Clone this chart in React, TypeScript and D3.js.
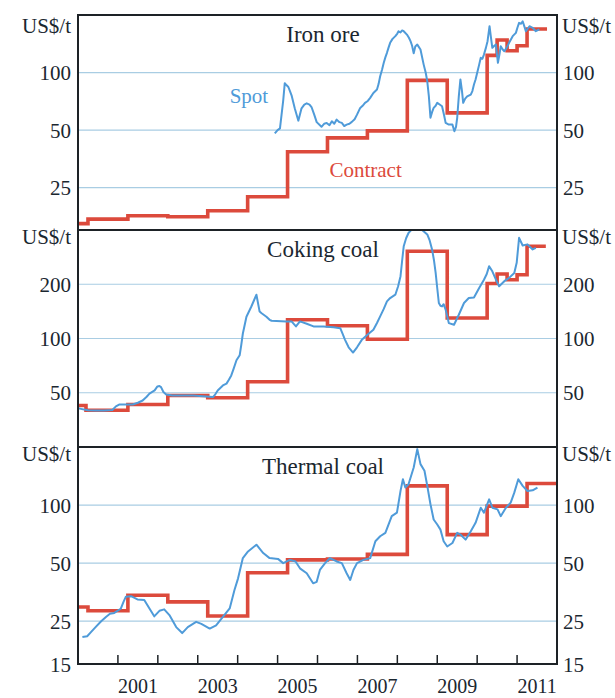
import React from "react";
import * as d3 from "d3";

// ---- Data (US$ per tonne, x = decimal year) ----
const tickYears = [2001, 2002, 2003, 2004, 2005, 2006, 2007, 2008, 2009, 2010, 2011];
const labelYears = [2001, 2003, 2005, 2007, 2009, 2011];

const ironOreSpot: [number, number][] = [
  [2004.93, 48], [2005.0, 50], [2005.06, 51], [2005.14, 71], [2005.18, 88], [2005.22, 86],
  [2005.27, 84], [2005.31, 80], [2005.35, 76], [2005.43, 65], [2005.52, 56], [2005.6, 65],
  [2005.67, 68], [2005.73, 69], [2005.8, 68], [2005.85, 66], [2005.92, 60], [2005.98, 55],
  [2006.1, 52], [2006.17, 54], [2006.23, 54.5], [2006.3, 53], [2006.36, 55.6], [2006.42, 54],
  [2006.48, 56.7], [2006.55, 55], [2006.61, 54.5], [2006.67, 52.5], [2006.73, 53.4], [2006.8, 54],
  [2006.86, 55.2], [2006.93, 57], [2006.99, 60.2], [2007.07, 65.3], [2007.13, 67], [2007.19, 69.4],
  [2007.26, 71], [2007.32, 73.7], [2007.4, 78.2], [2007.49, 81.5], [2007.53, 87], [2007.57, 95.6],
  [2007.62, 104], [2007.66, 112.4], [2007.7, 120], [2007.74, 126.8], [2007.78, 135], [2007.82, 143],
  [2007.88, 150], [2007.95, 155], [2008.0, 160], [2008.03, 164.5], [2008.08, 162], [2008.12, 166],
  [2008.16, 164.5], [2008.24, 158], [2008.29, 152], [2008.33, 146], [2008.37, 138], [2008.41, 126],
  [2008.45, 137], [2008.5, 140], [2008.58, 132], [2008.66, 110], [2008.71, 100], [2008.75, 90],
  [2008.79, 75], [2008.83, 58], [2008.87, 62], [2008.91, 65.3], [2008.96, 67], [2009.0, 69.4],
  [2009.06, 68], [2009.12, 66.6], [2009.17, 60], [2009.21, 54.5], [2009.29, 53.4], [2009.38, 53.4],
  [2009.43, 49.3], [2009.47, 52], [2009.5, 58], [2009.54, 75], [2009.58, 92], [2009.62, 80],
  [2009.65, 69.4], [2009.7, 73], [2009.75, 75], [2009.84, 76.7], [2009.88, 80], [2009.92, 86.5],
  [2009.96, 92], [2010.01, 101.6], [2010.05, 110], [2010.09, 119.4], [2010.13, 118], [2010.17, 124.2],
  [2010.22, 135], [2010.26, 145.9], [2010.31, 174.7], [2010.35, 150], [2010.38, 134.7], [2010.43, 138],
  [2010.47, 140.2], [2010.52, 112.4], [2010.56, 125], [2010.59, 137.3], [2010.64, 132], [2010.68, 129.3],
  [2010.74, 135], [2010.8, 143], [2010.89, 155], [2010.97, 161.3], [2011.01, 172], [2011.05, 182],
  [2011.1, 180], [2011.14, 185.5], [2011.18, 175], [2011.22, 164.5], [2011.27, 170], [2011.31, 174.7],
  [2011.39, 171.3], [2011.43, 168], [2011.47, 164.5], [2011.56, 168],
];

// contract prices: [start of pricing period, price]
const ironOreContract: [number, number][] = [
  [2000.0, 16.2], [2000.25, 17.1], [2001.25, 17.8], [2002.25, 17.6], [2003.25, 18.9],
  [2004.25, 22.4], [2005.25, 38.5], [2006.25, 45.5], [2007.25, 49.5], [2008.25, 91],
  [2009.25, 61.5], [2010.25, 123], [2010.5, 148], [2010.75, 130], [2011.0, 138], [2011.25, 169],
];
const ironOreContractEnd = 2011.75;

const cokingCoalSpot: [number, number][] = [
  [2000.0, 41], [2000.07, 40.7], [2000.25, 40], [2000.44, 39.8], [2000.65, 39.9], [2000.86, 40.1],
  [2000.95, 42], [2001.03, 43], [2001.2, 43], [2001.37, 43], [2001.5, 44], [2001.62, 45.3],
  [2001.72, 47.5], [2001.79, 49.4], [2001.92, 51.5], [2001.99, 54.2], [2002.04, 54.5], [2002.08, 53.7],
  [2002.14, 50.5], [2002.21, 48.9], [2002.37, 48.3], [2002.6, 48.3], [2002.88, 48.3], [2003.21, 47.7],
  [2003.38, 47.3], [2003.44, 49], [2003.5, 51.5], [2003.63, 54.9], [2003.72, 56.2], [2003.78, 59],
  [2003.84, 62.4], [2003.9, 68], [2003.97, 75.7], [2004.05, 80.7], [2004.09, 92], [2004.13, 106.6],
  [2004.22, 132.1], [2004.34, 150], [2004.41, 163], [2004.47, 175], [2004.55, 141], [2004.6, 138],
  [2004.72, 132.1], [2004.8, 127], [2004.85, 125.5], [2005.22, 124.4], [2005.35, 124.4], [2005.46, 116.7],
  [2005.56, 124.4], [2005.73, 120.8], [2005.9, 116.7], [2006.15, 116.7], [2006.4, 115.6], [2006.57, 114.1],
  [2006.63, 106], [2006.69, 98.3], [2006.78, 89.4], [2006.89, 83.6], [2006.99, 89.4], [2007.11, 98.3],
  [2007.28, 106.2], [2007.4, 111.8], [2007.49, 122], [2007.57, 132.6], [2007.66, 146], [2007.74, 160.7],
  [2007.82, 167.7], [2007.95, 175], [2008.02, 195], [2008.08, 221.8], [2008.12, 270], [2008.16, 325],
  [2008.22, 360], [2008.28, 385], [2008.34, 398], [2008.41, 410], [2008.52, 410], [2008.62, 400],
  [2008.75, 378], [2008.81, 350], [2008.87, 312], [2008.92, 270], [2008.96, 231], [2009.0, 190],
  [2009.04, 157.4], [2009.08, 152], [2009.12, 150.7], [2009.16, 155], [2009.21, 144.6], [2009.29, 121.7],
  [2009.42, 119.2], [2009.54, 135.5], [2009.67, 157.4], [2009.79, 167.7], [2009.92, 169], [2010.05, 190.7],
  [2010.17, 212], [2010.24, 228], [2010.3, 252], [2010.38, 236], [2010.47, 212], [2010.55, 195],
  [2010.68, 208], [2010.8, 217], [2010.93, 231], [2010.99, 263], [2011.05, 362], [2011.14, 328],
  [2011.26, 333], [2011.39, 312], [2011.47, 318],
];

const cokingCoalContract: [number, number][] = [
  [2000.0, 42.5], [2000.2, 40.0], [2001.25, 43], [2002.25, 48.3], [2003.25, 46.9],
  [2004.25, 57.5], [2005.25, 127], [2006.25, 117.7], [2007.25, 99], [2008.25, 305],
  [2009.25, 130], [2010.25, 202], [2010.5, 228], [2010.75, 212], [2011.0, 226], [2011.25, 325],
];
const cokingCoalContractEnd = 2011.72;

const thermalCoalSpot: [number, number][] = [
  [2000.11, 20.7], [2000.23, 20.9], [2000.33, 22], [2000.44, 23.3], [2000.58, 25], [2000.7, 26.3],
  [2000.8, 27.3], [2000.91, 27.6], [2001.07, 29], [2001.14, 31.5], [2001.2, 33.5], [2001.33, 33.7],
  [2001.49, 32.4], [2001.66, 32.2], [2001.79, 29.1], [2001.91, 26.5], [2002.04, 28.3], [2002.16, 28.8],
  [2002.29, 26.9], [2002.46, 23.3], [2002.61, 21.7], [2002.75, 23.3], [2002.96, 24.8], [2003.09, 24.2],
  [2003.3, 22.9], [2003.46, 23.8], [2003.63, 26.3], [2003.8, 29.1], [2003.92, 36.3], [2004.01, 41.7],
  [2004.13, 53.1], [2004.26, 57.5], [2004.47, 62.3], [2004.64, 56.4], [2004.8, 53.1], [2005.01, 52.6],
  [2005.14, 50], [2005.31, 52], [2005.45, 51], [2005.56, 47], [2005.73, 44.3], [2005.89, 39.3],
  [2005.98, 40], [2006.06, 46.1], [2006.19, 50], [2006.31, 53.1], [2006.48, 51], [2006.61, 50],
  [2006.73, 44.3], [2006.82, 40.9], [2006.9, 46.1], [2006.99, 50], [2007.15, 52], [2007.32, 53.1],
  [2007.45, 64.9], [2007.57, 68.9], [2007.7, 71.8], [2007.86, 87.6], [2007.99, 91.3], [2008.08, 118.4],
  [2008.14, 136.2], [2008.2, 123.3], [2008.28, 128.3], [2008.41, 156.7], [2008.5, 195], [2008.58, 163],
  [2008.68, 150.6], [2008.75, 125.7], [2008.83, 101], [2008.91, 84.2], [2009.0, 79.3], [2009.08, 74.6],
  [2009.16, 64.9], [2009.25, 61], [2009.38, 63.6], [2009.5, 71.8], [2009.58, 70.3], [2009.71, 66.2],
  [2009.84, 73.1], [2009.96, 80.9], [2010.09, 96.9], [2010.17, 91.3], [2010.3, 107.1], [2010.38, 96.9],
  [2010.51, 95], [2010.59, 87.6], [2010.72, 96.9], [2010.84, 103], [2010.93, 116], [2011.03, 136],
  [2011.14, 125.7], [2011.26, 118.3], [2011.39, 119.3], [2011.51, 123.3],
];

const thermalCoalContract: [number, number][] = [
  [2000.0, 29.6], [2000.25, 28.3], [2001.25, 34.1], [2002.25, 31.5], [2003.25, 26.6],
  [2004.25, 44.6], [2005.25, 52], [2006.25, 52.5], [2007.25, 55.5], [2008.25, 125.7],
  [2009.25, 70.3], [2010.25, 98.8], [2011.25, 129.4],
];
const thermalCoalContractEnd = 2012;

const ironOreTicks = [100, 50, 25];
const cokingCoalTicks = [200, 100, 50];
const thermalCoalTicks = [100, 50, 25, 15];

const ironOreDomain: [number, number] = [15, 200];
const cokingCoalDomain: [number, number] = [25, 400];
const thermalCoalDomain: [number, number] = [15, 200];

// ---- Layout & style ----
const W = 615;
const H = 698;
const LEFT = 78;
const RIGHT = 557;
const SPOT_COLOR = "#4f9bd9";
const CONTRACT_COLOR = "#dc4a3c";
const GRID_COLOR = "#a9cde3";
const FRAME_COLOR = "#1d2226";
const TEXT_COLOR = "#1b2730";
const FONT = "'Liberation Serif', 'Times New Roman', serif";

const xScale = d3.scaleLinear().domain([2000, 2012]).range([LEFT, RIGHT]);

type PanelDef = {
  key: string;
  title: string;
  top: number;
  bottom: number;
  domain: [number, number];
  ticks: number[];
  spot: [number, number][];
  contract: [number, number][];
  contractEnd: number;
};

const panels: PanelDef[] = [
  { key: "iron", title: "Iron ore", top: 15, bottom: 230, domain: ironOreDomain, ticks: ironOreTicks,
    spot: ironOreSpot, contract: ironOreContract, contractEnd: ironOreContractEnd },
  { key: "coking", title: "Coking coal", top: 230, bottom: 447, domain: cokingCoalDomain, ticks: cokingCoalTicks,
    spot: cokingCoalSpot, contract: cokingCoalContract, contractEnd: cokingCoalContractEnd },
  { key: "thermal", title: "Thermal coal", top: 447, bottom: 664, domain: thermalCoalDomain, ticks: thermalCoalTicks,
    spot: thermalCoalSpot, contract: thermalCoalContract, contractEnd: thermalCoalContractEnd },
];

function Panel({ p }: { p: PanelDef }) {
  const y = d3.scaleLog().domain(p.domain).range([p.bottom, p.top]);
  const line = d3.line<[number, number]>().x((d) => xScale(d[0])).y((d) => y(d[1]));
  const step = d3
    .line<[number, number]>()
    .x((d) => xScale(d[0]))
    .y((d) => y(d[1]))
    .curve(d3.curveStepAfter);
  const contractPts: [number, number][] = [
    ...p.contract,
    [p.contractEnd, p.contract[p.contract.length - 1][1]],
  ];
  const clipId = `clip-${p.key}`;
  const labelStyle = { fontFamily: FONT, fontSize: 21, fill: TEXT_COLOR };
  const unitY = p.key === "iron" ? p.top + 18 : p.top + 14;

  return (
    <g>
      <defs>
        <clipPath id={clipId}>
          <rect x={LEFT} y={p.top} width={RIGHT - LEFT} height={p.bottom - p.top} />
        </clipPath>
      </defs>
      {p.ticks
        .filter((t) => t > p.domain[0] && t < p.domain[1])
        .map((t) => (
          <line key={t} x1={LEFT} x2={RIGHT} y1={y(t)} y2={y(t)} stroke={GRID_COLOR} strokeWidth={1.2} />
        ))}
      <g clipPath={`url(#${clipId})`}>
        <path d={step(contractPts) || ""} fill="none" stroke={CONTRACT_COLOR} strokeWidth={3.6} />
        <path d={line(p.spot) || ""} fill="none" stroke={SPOT_COLOR} strokeWidth={2} strokeLinejoin="round" />
      </g>
      <text x={323} y={p.top + 27} textAnchor="middle" style={{ ...labelStyle, fontSize: 23 }}>
        {p.title}
      </text>
      {/* axis labels, left and right */}
      <text x={71} y={unitY} textAnchor="end" style={labelStyle}>US$/t</text>
      <text x={562} y={unitY} textAnchor="start" style={labelStyle}>US$/t</text>
      {p.ticks.map((t) => (
        <g key={t}>
          <text x={71} y={y(t)} dy="0.36em" textAnchor="end" style={labelStyle}>{t}</text>
          <text x={563} y={y(t)} dy="0.36em" textAnchor="start" style={labelStyle}>{t}</text>
        </g>
      ))}
    </g>
  );
}

export default function App() {
  const top = panels[0];
  const yTop = d3.scaleLog().domain(top.domain).range([top.bottom, top.top]);
  const bottomY = panels[2].bottom;
  return (
    <svg
      width={W}
      height={H}
      viewBox={`0 0 ${W} ${H}`}
      style={{ position: "absolute", left: 0, top: 0, display: "block", background: "#fff" }}
    >
      <rect x={0} y={0} width={W} height={H} fill="#fff" />
      {panels.map((p) => (
        <Panel key={p.key} p={p} />
      ))}
      {/* series labels */}
      <text x={xScale(2003.8)} y={yTop(69)} style={{ fontFamily: FONT, fontSize: 21, fill: SPOT_COLOR }}>
        Spot
      </text>
      <text x={xScale(2006.3)} y={yTop(28.5)} style={{ fontFamily: FONT, fontSize: 21, fill: CONTRACT_COLOR }}>
        Contract
      </text>
      {/* frame and panel separators */}
      <rect x={LEFT} y={panels[0].top} width={RIGHT - LEFT} height={bottomY - panels[0].top}
        fill="none" stroke={FRAME_COLOR} strokeWidth={2} />
      {panels.slice(1).map((p) => (
        <line key={p.key} x1={LEFT} x2={RIGHT} y1={p.top} y2={p.top} stroke={FRAME_COLOR} strokeWidth={2} />
      ))}
      {/* year ticks */}
      {tickYears.map((yr) => (
        <line key={yr} x1={xScale(yr)} x2={xScale(yr)} y1={bottomY} y2={bottomY - 9}
          stroke={FRAME_COLOR} strokeWidth={1.5} />
      ))}
      {labelYears.map((yr) => (
        <text key={yr} x={xScale(yr + 0.5)} y={693} textAnchor="middle"
          style={{ fontFamily: FONT, fontSize: 20, fill: TEXT_COLOR }}>
          {yr}
        </text>
      ))}
    </svg>
  );
}
